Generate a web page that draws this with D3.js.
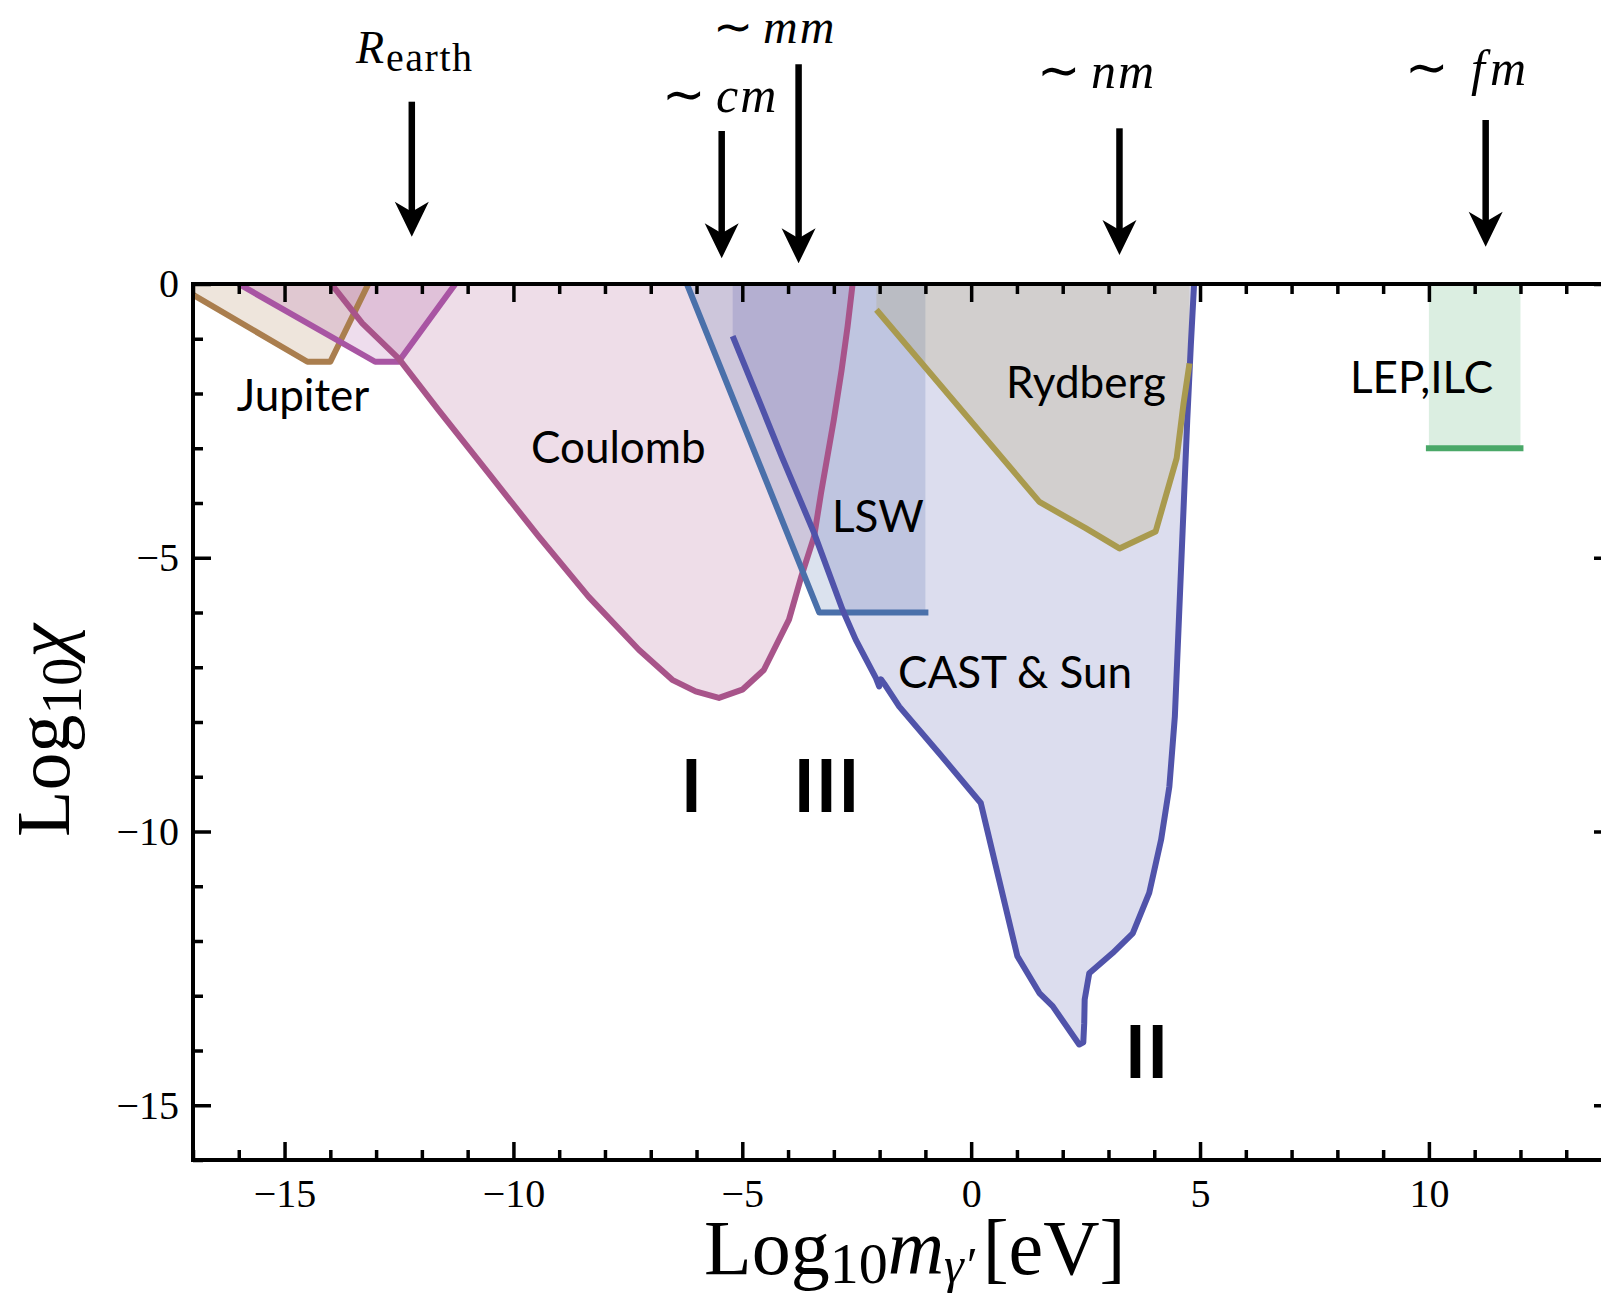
<!DOCTYPE html>
<html><head><meta charset="utf-8">
<script src="https://cdn.jsdelivr.net/npm/d3@7"></script>
<style>
html,body{margin:0;padding:0;background:#fff;overflow:hidden}
svg{display:block}
</style></head><body>
<svg id="chart" width="1601" height="1297"></svg>
<script>
// Axes: log10 of hidden-photon mass [eV] (x) and log10 of kinetic mixing chi (y)
const xDomain = [-17, 14];
const yDomain = [-16, 0];
const xTicks = [-15, -10, -5, 0, 5, 10];
const yTicks = [0, -5, -10, -15];

// Exclusion boundaries, [log10 m, log10 chi]
const jupiter = [[-17.4, 0], [-14.5, -1.42], [-14.0, -1.42], [-13.17, 0]];
const earth = [[-16.0, 0], [-13.02, -1.42], [-12.51, -1.42], [-11.27, 0]];
const coulomb = [[-13.98, 0], [-13.3, -0.72], [-12.51, -1.36], [-11.64, -2.30], [-10.54, -3.46],
  [-9.45, -4.61], [-8.36, -5.71], [-7.26, -6.68], [-6.53, -7.23], [-6.02, -7.44], [-5.51, -7.56],
  [-5.0, -7.41], [-4.53, -7.05], [-3.98, -6.13], [-3.71, -5.34], [-3.43, -4.61],
  [-3.28, -3.82], [-3.0, -2.48], [-2.83, -1.57], [-2.70, -0.78], [-2.59, 0]];
const lsw = [[-6.21, 0], [-3.32, -6.0], [-1.0, -6.0]];
const cast = [[-5.21, -0.95], [-4.6, -2.2], [-4.14, -3.15], [-3.43, -4.55], [-2.81, -5.95],
  [-2.52, -6.5], [-2.08, -7.2], [-2.01, -7.35], [-1.97, -7.22], [-1.9, -7.3], [-1.57, -7.72],
  [-0.70, -8.57], [0.21, -9.48], [0.61, -10.88], [1.01, -12.28], [1.49, -12.95], [1.78, -13.19],
  [2.36, -13.89], [2.45, -13.85], [2.47, -13.5], [2.48, -13.07], [2.58, -12.59], [3.09, -12.22],
  [3.53, -11.86], [3.89, -11.12], [4.15, -10.15], [4.33, -9.18], [4.45, -7.9], [4.53, -6.3],
  [4.62, -4.5], [4.72, -2.5], [4.8, -1.1], [4.87, 0]];
const rydberg = [[-2.07, -0.47], [1.49, -3.98], [2.5, -4.46], [3.24, -4.83],
  [4.03, -4.52], [4.49, -3.18], [4.64, -2.18], [4.77, -1.45]];
const lep = [[10, -3], [12, -3]];

const regionNames = ["Jupiter", "Earth", "Coulomb", "LSW", "CAST & Sun", "Rydberg", "LEP,ILC"];
const regionBounds = [jupiter, earth, coulomb, lsw, cast, rydberg, lep];
const regionColors = ["#aa7e4e", "#a855a3", "#a8548a", "#4a70aa", "#5053aa", "#a99a4e", "#4aa868"];

// Length scales marked above the plot
const scaleNames = ["earth", "cm", "mm", "nm", "fm"];
const scaleMass = [-12.22, -5.45, -3.77, 3.24, 11.24];

const svg = d3.select("#chart");
const X0 = 193, X1 = 1612, Y0 = 284, Y1 = 1160;
const x = d3.scaleLinear().domain(xDomain).range([X0, X1]);
const y = d3.scaleLinear().domain(yDomain).range([Y1, Y0]);

svg.append("defs").append("clipPath").attr("id", "plotClip")
  .append("rect").attr("x", X0).attr("y", Y0).attr("width", X1 - X0).attr("height", Y1 - Y0);

const plot = svg.append("g").attr("clip-path", "url(#plotClip)");
const line = d3.line().x(d => x(d[0])).y(d => y(d[1]));

// translucent filled regions, closed up to chi = 1
regionBounds.forEach((pts, i) => {
  const poly = [[pts[0][0], 0], ...pts, [pts[pts.length - 1][0], 0]];
  plot.append("path").attr("d", line(poly) + "Z")
    .attr("fill", regionColors[i]).attr("fill-opacity", 0.2).attr("stroke", "none");
});
// boundary lines
regionBounds.forEach((pts, i) => {
  plot.append("path").attr("d", line(pts))
    .attr("fill", "none").attr("stroke", regionColors[i])
    .attr("stroke-width", 6)
    .attr("stroke-linejoin", "round")
    .attr("stroke-linecap", (i === 3 || i === 6) ? "square" : "butt");
});

// axes with inward ticks
const minorX = d3.range(-17, 15).filter(v => v % 5 !== 0);
const minorY = d3.range(-16, 1).filter(v => v % 5 !== 0);
function styleAxis(g) {
  g.select(".domain").remove();
  g.selectAll(".tick line").attr("stroke", "#000").attr("stroke-width", 3.5);
  g.selectAll(".tick text").attr("fill", "#000")
    .attr("font-family", "'Liberation Serif', 'Times New Roman', serif").attr("font-size", 40);
}
const fmt = d3.format("");
svg.append("g").attr("transform", `translate(0,${Y1})`)
  .call(d3.axisBottom(x).tickValues(xTicks).tickSize(-18).tickPadding(19).tickFormat(fmt)).call(styleAxis);
svg.append("g").attr("transform", `translate(0,${Y1})`)
  .call(d3.axisBottom(x).tickValues(minorX).tickSize(-10).tickFormat("")).call(styleAxis);
svg.append("g").attr("transform", `translate(0,${Y0})`)
  .call(d3.axisTop(x).tickValues(xTicks).tickSize(-18).tickFormat("")).call(styleAxis);
svg.append("g").attr("transform", `translate(0,${Y0})`)
  .call(d3.axisTop(x).tickValues(minorX).tickSize(-10).tickFormat("")).call(styleAxis);
svg.append("g").attr("transform", `translate(${X0},0)`)
  .call(d3.axisLeft(y).tickValues(yTicks).tickSize(-18).tickPadding(14).tickFormat(fmt)).call(styleAxis);
svg.append("g").attr("transform", `translate(${X0},0)`)
  .call(d3.axisLeft(y).tickValues(minorY).tickSize(-10).tickFormat("")).call(styleAxis);
svg.append("g").attr("transform", `translate(${X1},0)`)
  .call(d3.axisRight(y).tickValues(yTicks).tickSize(-18).tickFormat("")).call(styleAxis);
svg.append("g").attr("transform", `translate(${X1},0)`)
  .call(d3.axisRight(y).tickValues(minorY).tickSize(-10).tickFormat("")).call(styleAxis);

svg.append("rect").attr("x", X0).attr("y", Y0).attr("width", X1 - X0).attr("height", Y1 - Y0)
  .attr("fill", "none").attr("stroke", "#000").attr("stroke-width", 4);

// region labels
const sans = "Lato, 'Open Sans', sans-serif";
const labelSpots = [[236.7, 410.5], null, [531, 462.5], [832, 532], [898, 688], [1006, 398], [1350, 393]];
regionNames.forEach((name, i) => {
  if (!labelSpots[i]) return;
  svg.append("text").attr("x", labelSpots[i][0]).attr("y", labelSpots[i][1])
    .attr("font-family", sans).attr("font-size", 44).attr("fill", "#000").text(name);
});
// regime numerals
[["I", 692, 812], ["III", 827, 812], ["II", 1147, 1078]].forEach(([t, px, py]) => {
  svg.append("text").attr("x", px).attr("y", py).attr("text-anchor", "middle")
    .attr("font-family", sans).attr("font-weight", 700).attr("font-size", 72)
    .attr("letter-spacing", 1).text(t);
});

// length-scale arrows
const serif = "'Liberation Serif', 'Times New Roman', serif";
const arrowTop = [101.7, 131, 64.3, 128.3, 120];
const arrowTip = [236.7, 258.3, 263.3, 255, 246.7];
const labelX = [356, 662, 713, 1037, 1405];
const labelY = [63, 111.7, 43, 88.3, 85];
const labelGap = [0, 10, 10, 10, 22];
scaleMass.forEach((m, i) => {
  const ax = x(m), t = arrowTip[i];
  svg.append("line").attr("x1", ax).attr("x2", ax).attr("y1", arrowTop[i]).attr("y2", t - 20)
    .attr("stroke", "#000").attr("stroke-width", 6.5);
  svg.append("path")
    .attr("d", `M${ax},${t} L${ax - 17},${t - 35} L${ax},${t - 25} L${ax + 17},${t - 35} Z`)
    .attr("fill", "#000");
  const big = i === 2 ? 48 : 50;
  const tx = svg.append("text").attr("x", labelX[i]).attr("y", labelY[i])
    .attr("font-family", serif).attr("font-size", 46).attr("fill", "#000");
  if (scaleNames[i] === "earth") {
    tx.append("tspan").attr("font-style", "italic").text("R");
    tx.append("tspan").attr("font-size", 40).attr("dy", 8).attr("dx", 2)
      .attr("letter-spacing", 1.5).text("earth");
  } else {
    tx.append("tspan").attr("font-size", i === 2 ? 48 : 52).text("\u223C");
    tx.append("tspan").attr("font-style", "italic").attr("font-size", big).attr("dx", labelGap[i])
      .attr("letter-spacing", scaleNames[i] === "fm" ? 5 : 2).text(scaleNames[i]);
  }
});

// axis titles
const xt = svg.append("text").attr("x", 704).attr("y", 1274)
  .attr("font-family", serif).attr("font-size", 78).attr("fill", "#000");
xt.append("tspan").text("Log");
xt.append("tspan").attr("font-size", 58).attr("dy", 9).text("10");
xt.append("tspan").attr("font-style", "italic").attr("dy", -9).text("m");
xt.append("tspan").attr("font-style", "italic").attr("font-size", 50).attr("dy", 8).text("\u03B3\u2032");
xt.append("tspan").attr("dy", -8).attr("dx", 8).text("[eV]");

const yt = svg.append("text").attr("transform", "translate(69,837) rotate(-90)")
  .attr("font-family", serif).attr("font-size", 76).attr("fill", "#000");
yt.append("tspan").text("Log");
yt.append("tspan").attr("font-size", 57).attr("dy", 12).text("10");
yt.append("tspan").attr("font-style", "italic").attr("dy", -12).text("\u03C7");
</script>
</body></html>
